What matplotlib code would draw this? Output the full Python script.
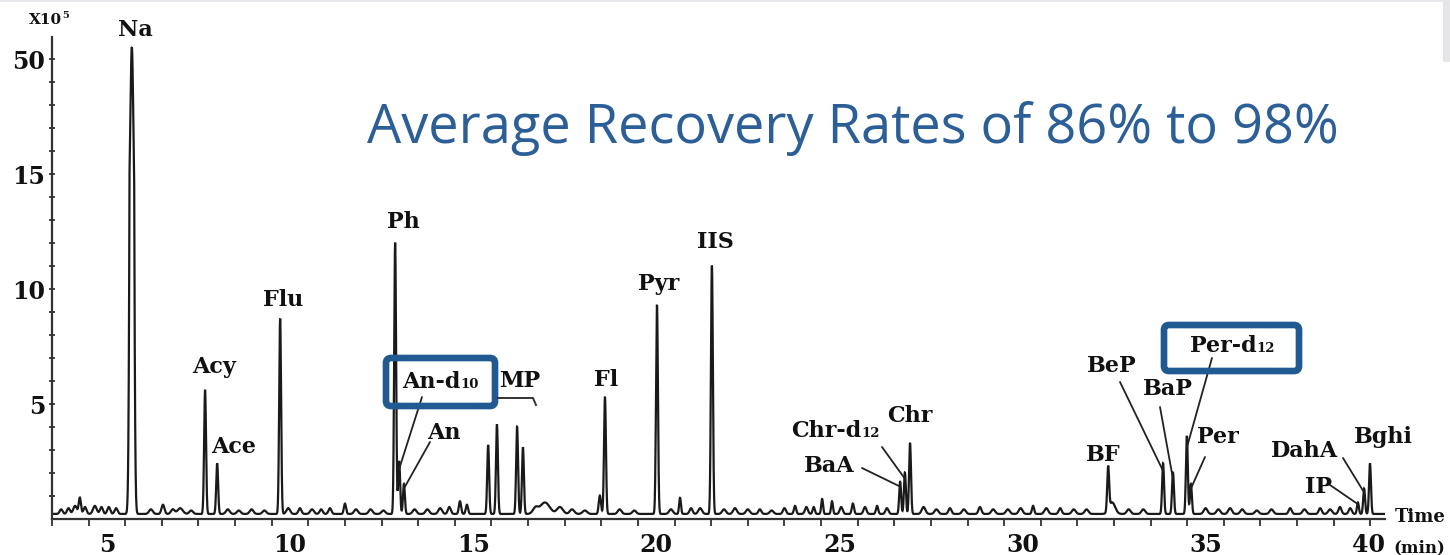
import numpy as np
import matplotlib
matplotlib.use("Agg")
import matplotlib.pyplot as plt
import matplotlib.transforms as mtransforms
from matplotlib.patches import FancyBboxPatch, Rectangle

# ---------------- data ----------------
peak_names = ["Na", "Acy", "Ace", "Flu", "Ph", "An-d10", "An", "MP1", "MP2", "MP3", "MP4",
              "Fl", "Pyr", "IIS", "BaA", "Chr-d12", "Chr", "BF", "BeP", "BaP",
              "Per-d12", "Per", "IP", "DahA", "Bghi"]
peak_times = [5.68, 7.68, 8.01, 9.73, 12.87, 12.98, 13.11, 15.41, 15.65, 16.20, 16.36,
              18.60, 20.02, 21.52, 26.66, 26.79, 26.93, 32.34, 33.84, 34.11,
              34.49, 34.60, 39.16, 39.33, 39.49]
peak_heights = [53.4, 5.4, 2.2, 8.5, 11.8, 2.3, 1.3, 3.0, 3.9, 3.8, 2.9,
                5.1, 9.1, 10.8, 1.4, 1.8, 3.1, 1.9, 2.2, 1.8,
                3.4, 1.3, 0.5, 1.1, 2.2]

minor_times = [3.75, 3.95, 4.13, 4.26, 4.40, 4.67, 4.85, 5.05, 5.25, 6.20, 6.53, 6.80, 7.00,
               7.30, 8.30, 8.60, 8.95, 9.30, 9.95, 10.27, 10.60, 10.85, 11.09, 11.50,
               11.80, 12.20, 12.55, 13.40, 13.75, 14.10, 14.35, 14.64, 14.83,
               16.70, 16.96, 17.37, 17.70, 18.05, 18.46, 19.00, 19.40, 20.40, 20.65,
               20.95, 21.20, 21.85, 22.15, 22.50, 22.83, 23.15, 23.50, 23.79, 24.10,
               24.30, 24.53, 24.80, 25.05, 25.37, 25.70, 26.03, 26.30, 27.30, 27.65,
               28.02, 28.40, 28.84, 29.20, 29.60, 29.95, 30.29, 30.65, 31.03, 31.40,
               31.75, 32.45, 32.90, 33.30, 35.00, 35.35, 35.67, 36.00, 36.40, 36.80,
               37.31, 37.70, 38.13, 38.40, 38.67, 38.95]
minor_heights = [0.2, 0.25, 0.35, 0.7, 0.3, 0.35, 0.3, 0.3, 0.25, 0.2, 0.4, 0.2, 0.25,
                 0.15, 0.2, 0.15, 0.2, 0.15, 0.25, 0.25, 0.2, 0.2, 0.25, 0.45,
                 0.2, 0.2, 0.15, 0.2, 0.2, 0.25, 0.3, 0.55, 0.4,
                 0.25, 0.5, 0.3, 0.2, 0.15, 0.8, 0.2, 0.15, 0.2, 0.7,
                 0.25, 0.25, 0.2, 0.25, 0.2, 0.2, 0.15, 0.25, 0.35, 0.3,
                 0.3, 0.65, 0.55, 0.3, 0.45, 0.3, 0.35, 0.25, 0.3, 0.2,
                 0.25, 0.2, 0.3, 0.2, 0.2, 0.25, 0.35, 0.25, 0.25, 0.2,
                 0.2, 0.5, 0.2, 0.2, 0.25, 0.2, 0.25, 0.2, 0.15, 0.2,
                 0.25, 0.2, 0.25, 0.2, 0.3, 0.25]
minor_widths = [0.04, 0.04, 0.05, 0.03, 0.04, 0.05, 0.04, 0.04, 0.04, 0.05, 0.04, 0.05, 0.07,
                0.05, 0.05, 0.05, 0.05, 0.05, 0.05, 0.04, 0.05, 0.04, 0.04, 0.03,
                0.05, 0.05, 0.05, 0.05, 0.05, 0.05, 0.04, 0.03, 0.03,
                0.07, 0.13, 0.08, 0.06, 0.06, 0.03, 0.05, 0.05, 0.05, 0.025,
                0.04, 0.05, 0.05, 0.05, 0.05, 0.04, 0.05, 0.04, 0.03, 0.04,
                0.03, 0.025, 0.025, 0.04, 0.03, 0.04, 0.03, 0.04, 0.05, 0.05,
                0.04, 0.05, 0.04, 0.05, 0.05, 0.05, 0.03, 0.05, 0.04, 0.05,
                0.05, 0.08, 0.05, 0.05, 0.05, 0.05, 0.05, 0.05, 0.05, 0.05,
                0.04, 0.05, 0.04, 0.05, 0.04, 0.04]
baseline_level = 0.22

x_tick_labels = ["5", "10", "15", "20", "25", "30", "35", "40"]
y_tick_values = [5, 10, 15, 50]

title_text = "Average Recovery Rates of 86% to 98%"

# ---------------- figure ----------------
W, H = 1450, 555
fig = plt.figure(figsize=(W / 100, H / 100), dpi=100)

ax_left, ax_right, ax_bottom, ax_top = 52, 1385, 519, 37
ax = fig.add_axes([ax_left / W, (H - ax_bottom) / H,
                   (ax_right - ax_left) / W, (ax_bottom - ax_top) / H])

# broken y scale: linear to 15, compressed above
def fwd(y):
    y = np.asarray(y, dtype=float)
    return np.where(y <= 15, y, 15 + (y - 15) / 7.0)

def inv(d):
    d = np.asarray(d, dtype=float)
    return np.where(d <= 15, d, 15 + (d - 15) * 7.0)

ax.set_yscale('function', functions=(fwd, inv))

t = np.linspace(3.5, 39.9, 12000)
signal = np.full_like(t, baseline_level)
sig_major = [0.04] + [0.026] * (len(peak_times) - 1)
for tc, h, s in zip(peak_times, peak_heights, sig_major):
    signal += h * np.exp(-0.5 * ((t - tc) / s) ** 2)
for tc, h, s in zip(minor_times, minor_heights, minor_widths):
    signal += h * np.exp(-0.5 * ((t - tc) / s) ** 2)

ax.plot(t, signal, color='#1a1a1a', lw=1.6, solid_joinstyle='miter')

ax.set_xlim(3.5, 39.9)
ax.set_ylim(0, 56.7)

for sp in ['top', 'right']:
    ax.spines[sp].set_visible(False)
for sp in ['left', 'bottom']:
    ax.spines[sp].set_color('#333333')
    ax.spines[sp].set_linewidth(1.6)

serif = dict(family='DejaVu Serif', weight='bold', color='#111111')

# x ticks
x_major_pos = [float(v) for v in x_tick_labels]
x_major_pos[-1] = 39.45
ax.set_xticks(x_major_pos)
ax.set_xticklabels(x_tick_labels, fontsize=17, **serif)
ax.tick_params(axis='x', which='major', length=0, pad=10)
ax.set_xticks(np.arange(3.5, 39.6, 1.0), minor=True)
ax.tick_params(axis='x', which='minor', length=5, width=1.3, direction='out', color='#333333')

# y ticks
ax.set_yticks(y_tick_values)
ax.set_yticklabels([str(v) for v in y_tick_values], fontsize=17, **serif)
ax.tick_params(axis='y', which='major', length=4, width=1.3, direction='inout', pad=3, color='#333333')
ax.set_yticks(list(range(1, 15)) + [22, 29, 36, 43], minor=True)
ax.tick_params(axis='y', which='minor', length=4, width=1.3, direction='inout', color='#333333')

idT = mtransforms.IdentityTransform()

# ---------------- labels ----------------
def P(x, y):
    return (x, H - y)

label_text = {
    "Na": ("Na", ""), "Acy": ("Acy", ""), "Ace": ("Ace", ""), "Flu": ("Flu", ""),
    "Ph": ("Ph", ""), "An-d10": ("An-d", "10"), "An": ("An", ""), "MP": ("MP", ""),
    "Fl": ("Fl", ""), "Pyr": ("Pyr", ""), "IIS": ("IIS", ""), "BaA": ("BaA", ""),
    "Chr-d12": ("Chr-d", "12"), "Chr": ("Chr", ""), "BF": ("BF", ""), "BeP": ("BeP", ""),
    "BaP": ("BaP", ""), "Per-d12": ("Per-d", "12"), "Per": ("Per", ""), "IP": ("IP", ""),
    "DahA": ("DahA", ""), "Bghi": ("Bghi", ""),
}
label_pos = {
    "Na": (135, 30), "Acy": (214, 367), "Ace": (234, 447), "Flu": (283, 300),
    "Ph": (403, 222), "An-d10": (440, 382), "An": (444, 433), "MP": (520, 381),
    "Fl": (606, 380), "Pyr": (659, 284), "IIS": (715, 242), "BaA": (829, 466),
    "Chr-d12": (835, 431), "Chr": (910, 416), "BF": (1103, 455), "BeP": (1112, 366),
    "BaP": (1168, 389), "Per-d12": (1232, 346), "Per": (1218, 437), "IP": (1318, 487),
    "DahA": (1305, 451), "Bghi": (1383, 437),
}
for k, (main, sub) in label_text.items():
    px, py = label_pos[k]
    shift = 9 if sub else 0
    tm = fig.text(*P(px - shift, py), main, fontsize=16, ha='center', va='center',
                  transform=idT, **serif)
    if sub:
        ax.annotate(sub, xy=(1.0, 0.08), xycoords=tm, fontsize=9.5,
                    ha='left', va='bottom', annotation_clip=False, **serif)

# leader lines: label-side pixel start -> peak
leaders = {
    "An-d10": (422, 397), "An": (430, 442), "BaA": (862, 468), "Chr-d12": (882, 447),
    "BeP": (1120, 382), "BaP": (1160, 407), "Per-d12": (1212, 358), "Per": (1205, 457),
    "DahA": (1343, 458), "IP": (1330, 485),
}
for k, (px, py) in leaders.items():
    i = peak_names.index(k)
    ax.annotate('', xy=(peak_times[i], peak_heights[i] * 0.85 + baseline_level),
                xycoords='data', xytext=P(px, py), textcoords='figure pixels',
                arrowprops=dict(arrowstyle='-', color='#222222', lw=1.3,
                                shrinkA=0, shrinkB=0))

# MP bracket
fig.lines.append(plt.Line2D([498, 533, 536], [H - 398, H - 398, H - 405],
                            transform=idT, color='#333333', lw=1.4))

# blue boxes
for (x0, y0, x1, y1) in [(386, 358, 495, 406), (1164, 325, 1299, 371)]:
    fig.patches.append(FancyBboxPatch((x0, H - y1), x1 - x0, y1 - y0,
                                      boxstyle='round,pad=0,rounding_size=5',
                                      transform=idT, fill=False,
                                      edgecolor='#215a92', lw=4.8))

# axis unit labels
fig.text(*P(45, 20), "X10", fontsize=11, ha='center', va='center', transform=idT, **serif)
fig.text(*P(66, 16), "5", fontsize=7, ha='center', va='center', transform=idT, **serif)
fig.text(*P(1420, 517), "Time", fontsize=13, ha='center', va='center', transform=idT, **serif)
fig.text(*P(1419, 548), "(min)", fontsize=12, ha='center', va='center', transform=idT, **serif)

# title
fig.text(*P(853, 128), title_text, fontsize=39, family='Open Sans', color='#2c5f97',
         ha='center', va='center', transform=idT)

# light frame pieces at top and right
fig.patches.append(Rectangle((0, H - 2), W, 2, transform=idT, color='#e8e8ec', lw=0))
fig.patches.append(Rectangle((1443, H - 62), 7, 62, transform=idT, color='#e6e6ea', lw=0))

fig.savefig("out.png", dpi=100)
